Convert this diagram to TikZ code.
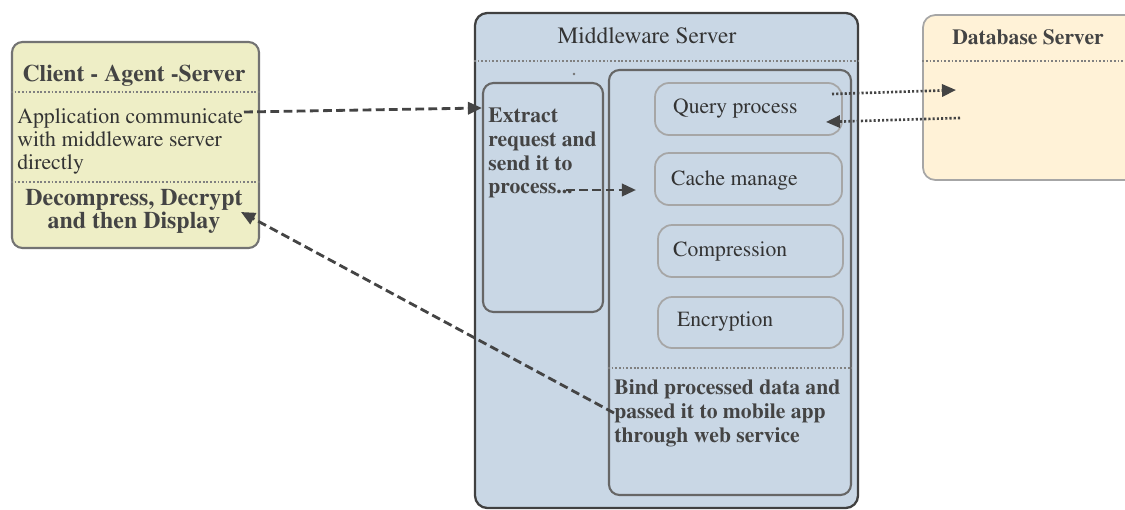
\documentclass[tikz,border=0pt]{standalone}
\usepackage[T1]{fontenc}
\usepackage{mathptmx}
\usetikzlibrary{arrows.meta,fit,positioning}

\definecolor{clientfill}{HTML}{EEEEC6}
\definecolor{midfill}{HTML}{C9D7E5}
\definecolor{dbfill}{HTML}{FFF2D7}
\definecolor{ink}{HTML}{333333}
\definecolor{headink}{HTML}{444444}

\tikzset{
	clientbox/.style={draw=black!55, line width=1.2pt, fill=clientfill, rounded corners=6pt, inner sep=0pt},
	midbox/.style={draw=black!75, line width=1.3pt, fill=midfill, rounded corners=7pt, inner sep=0pt},
	dbbox/.style={draw=black!35, line width=1pt, fill=dbfill, rounded corners=7pt, inner sep=0pt},
	innerbox/.style={draw=black!60, line width=1.2pt, rounded corners=6pt, inner sep=0pt},
	stepbox/.style={draw=black!35, line width=1pt, rounded corners=8pt, inner sep=0pt},
	title/.style={font=\fontsize{12.3}{13.6}\selectfont\bfseries, text=headink},
	sep/.style={draw=black!50, line width=1pt, dash pattern=on 1pt off 1.1pt},
	flow/.style={draw=headink, line width=1.6pt, dash pattern=on 5pt off 2.5pt, -{Triangle[length=8pt,width=7pt]}},
	dbflow/.style={draw=headink, line width=1.5pt, dash pattern=on 1.2pt off 1.2pt, -{Triangle[length=8pt,width=7pt]}}
}

\begin{document}
\begin{tikzpicture}[x=0.02cm, y=-0.02cm, font=\fontsize{12.3}{13.6}\selectfont, text=ink]
	\useasboundingbox (0,0) rectangle (1125,510);

	% client
	\node [clientbox, fit={(12,42) (259,248)}] (client) {};
	\draw [sep] (client.west |- 0,92) -- (client.east |- 0,92);
	\draw [sep] (client.west |- 0,182) -- (client.east |- 0,182);
	\node [title, font=\fontsize{13.5}{14}\selectfont\bfseries] (clienttitle) at (134,76) {Client - Agent -Server};
	\node [anchor=north west, align=left, inner sep=0pt, font=\fontsize{12.4}{13.2}\selectfont] (clientapp) at (17,108) {Application communicate\\with middleware server\\directly};
	\node [title, align=center, font=\fontsize{13.6}{13.2}\selectfont\bfseries] (clientshow) at (134,211) {Decompress, Decrypt\\and then Display};

	% middleware server
	\node [midbox, fit={(475,13) (858,508)}] (mid) {};
	\node [font=\fontsize{13.3}{14}\selectfont] (midtitle) at (647,36) {Middleware Server};
	\draw [sep] (mid.west |- 0,61) -- (mid.east |- 0,61);
	\fill [black!55] (574,74) circle (1.3);

	\node [innerbox, fit={(483,83) (603,312)}] (extract) {};
	\node [title, anchor=north west, align=left, inner sep=0pt] (extracttext) at (488,107) {Extract\\request and\\send it to\\process...};

	\node [innerbox, fit={(609,70) (851,495)}] (work) {};
	\node [stepbox, fit={(655,83) (842,135)}] (query) {};
	\node [anchor=west] (querytext) at (667,109) {Query process};
	\node [stepbox, fit={(655,153) (842,205)}] (cache) {};
	\node [anchor=west] (cachetext) at (665,181) {Cache manage};
	\node [stepbox, fit={(658,225) (843,277)}] (compress) {};
	\node [anchor=west] (compresstext) at (667,252) {Compression};
	\node [stepbox, fit={(658,297) (843,348)}] (encrypt) {};
	\node [anchor=west] (encrypttext) at (671,322) {Encryption};
	\draw [sep] (work.west |- 0,368) -- (work.east |- 0,368);
	\node [title, anchor=west, align=left, inner sep=0pt] (bindtext) at (614,413) {Bind processed data and\\passed it to mobile app\\through web service};

	% database server
	\node [dbbox, fit={(923,15) (1140,180)}] (db) {};
	\node [title] (dbtitle) at (1028,37) {Database Server};
	\draw [sep] (db.west |- 0,61) -- (1125,61);

	% connectors
	\coordinate (appout) at (244,112);
	\coordinate (reqin) at (extract.west |- 0,108);
	\draw [flow] (appout) -- (reqin);

	\coordinate (reqout) at (566,190);
	\coordinate (procin) at (636,190);
	\draw [flow] (reqout) -- (procin);

	\coordinate (queryout) at (832,94);
	\coordinate (dbin) at (956,90);
	\draw [dbflow] (queryout) -- (dbin);
	\coordinate (dbout) at (960,118);
	\coordinate (queryin) at (826,122);
	\draw [dbflow] (dbout) -- (queryin);

	\coordinate (showin) at (241,212);
	\draw [flow] (bindtext.west) -- (showin);
\end{tikzpicture}
\end{document}
